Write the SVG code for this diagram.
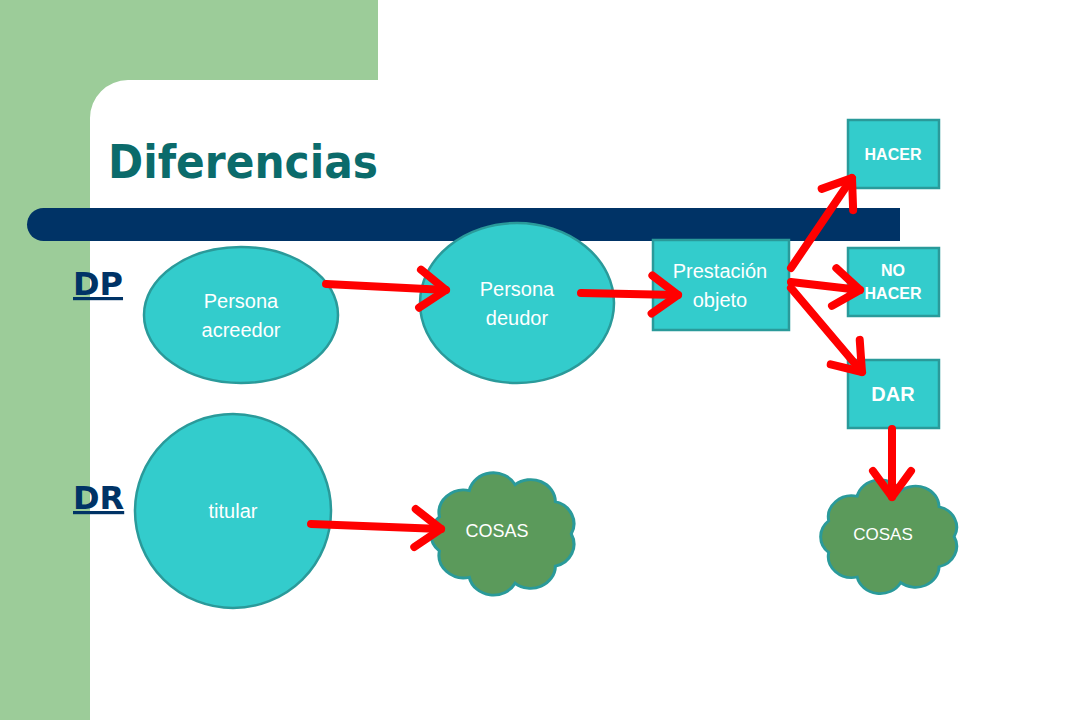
<svg xmlns="http://www.w3.org/2000/svg" width="1080" height="720" viewBox="0 0 1080 720">
<defs>
<style>
.node{fill:#33CCCC;stroke:#2A9A9A;stroke-width:2.5}
.cloud{fill:#5B9A5B;stroke:#2A9A9A;stroke-width:3}
.t{font-family:"Liberation Sans",Arial,sans-serif;fill:#FFFFFF;text-anchor:middle}
.tb{font-family:"Liberation Sans",Arial,sans-serif;fill:#FFFFFF;text-anchor:middle;font-weight:bold}
.lab{font-family:"DejaVu Sans",Verdana,sans-serif;fill:#003366;font-weight:bold;font-size:32px;text-decoration:underline}
.arr{fill:none;stroke:#FF0000;stroke-width:8;stroke-linecap:round;marker-end:url(#ah)}
</style>
<marker id="ah" markerUnits="userSpaceOnUse" markerWidth="60" markerHeight="60" viewBox="-40 -30 60 60" refX="0" refY="0" orient="auto" overflow="visible">
<path d="M-26,-19 L0,0 L-26,19" fill="none" stroke="#FF0000" stroke-width="8" stroke-linecap="round" stroke-linejoin="round"/>
</marker>
<path id="cloudshape" d="M14,42.9 A24,24 0 0 1 43,15.1 A24,24 0 0 1 87.5,8.8 A24,24 0 0 1 126.6,26.9 A24,24 0 0 1 142,61 A24,24 0 0 1 126.6,95.1 A24,24 0 0 1 87.5,113.2 A24,24 0 0 1 43,106.9 A24,24 0 0 1 14,79.1 A24,24 0 0 1 14,42.9 Z"/>
</defs>
<!-- background -->
<rect x="0" y="0" width="1080" height="720" fill="#FFFFFF"/>
<rect x="0" y="0" width="378" height="120" fill="#9CCC99"/>
<rect x="0" y="0" width="90" height="720" fill="#9CCC99"/>
<path d="M90,720 L90,118 A38,38 0 0 1 128,80 L378,80 L378,130 L90,130 Z" fill="#FFFFFF"/>
<!-- navy bar -->
<rect x="27" y="208" width="60" height="33" rx="16.5" fill="#003366"/>
<rect x="60" y="208" width="840" height="33" fill="#003366"/>
<!-- title -->
<text x="108" y="178" font-family="'DejaVu Sans',Verdana,sans-serif" font-weight="bold" font-size="47" fill="#0B6B6B" textLength="270" lengthAdjust="spacingAndGlyphs">Diferencias</text>
<text class="lab" x="73" y="295">DP</text>
<text class="lab" x="73" y="509">DR</text>

<g id="acreedor">
<ellipse class="node" cx="241" cy="315" rx="97" ry="68"/>
<text class="t" x="241" y="308" font-size="20">Persona</text>
<text class="t" x="241" y="337" font-size="20">acreedor</text>
</g>
<g id="deudor">
<ellipse class="node" cx="517" cy="303" rx="97" ry="80"/>
<text class="t" x="517" y="296" font-size="20">Persona</text>
<text class="t" x="517" y="325" font-size="20">deudor</text>
</g>
<g id="prestacion">
<rect class="node" x="653" y="240" width="136" height="90"/>
<text class="t" x="720" y="278" font-size="20">Prestación</text>
<text class="t" x="720" y="307" font-size="20">objeto</text>
</g>
<g id="hacer">
<rect class="node" x="848" y="120" width="91" height="68"/>
<text class="tb" x="893" y="160" font-size="16">HACER</text>
</g>
<g id="nohacer">
<rect class="node" x="848" y="248" width="91" height="68"/>
<text class="tb" x="893" y="276" font-size="16">NO</text>
<text class="tb" x="893" y="299" font-size="16">HACER</text>
</g>
<g id="dar">
<rect class="node" x="848" y="360" width="91" height="68"/>
<text class="tb" x="893" y="401" font-size="20">DAR</text>
</g>
<g id="titular">
<ellipse class="node" cx="233" cy="511" rx="98" ry="97"/>
<text class="t" x="233" y="518" font-size="20">titular</text>
</g>
<g id="cosas1">
<use href="#cloudshape" class="cloud" transform="translate(425,476.3) scale(1.03,0.945)"/>
<text class="t" x="497" y="537" font-size="18">COSAS</text>
</g>
<g id="cosas2">
<use href="#cloudshape" class="cloud" transform="translate(815,483) scale(0.98,0.88)"/>
<text class="t" x="883" y="540" font-size="17">COSAS</text>
</g>

<g id="connectors">
<line class="arr" x1="326" y1="284" x2="446" y2="290"/>
<line class="arr" x1="581" y1="293" x2="678" y2="295"/>
<line class="arr" x1="791" y1="268" x2="852" y2="178"/>
<line class="arr" x1="791" y1="282" x2="860" y2="290"/>
<line class="arr" x1="791" y1="288" x2="862" y2="372"/>
<line class="arr" x1="892" y1="429" x2="892" y2="497"/>
<line class="arr" x1="311" y1="524" x2="441" y2="529"/>
</g>
</svg>
